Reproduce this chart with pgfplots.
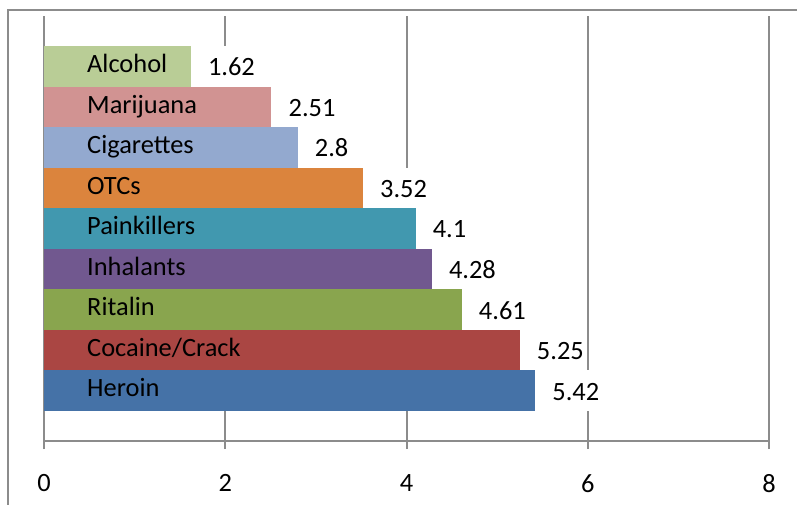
\documentclass[border=0pt]{standalone}
\usepackage{fontspec}
\setmainfont{Carlito}
\usepackage{pgfplots}
\pgfplotsset{compat=1.18}
\usepackage{pgfplotstable}
\definecolor{cAlc}{HTML}{B9CD96}
\definecolor{cMar}{HTML}{D19392}
\definecolor{cCig}{HTML}{93A9CF}
\definecolor{cOTC}{HTML}{DB843D}
\definecolor{cPai}{HTML}{4198AF}
\definecolor{cInh}{HTML}{71588F}
\definecolor{cRit}{HTML}{89A54E}
\definecolor{cCoc}{HTML}{AA4643}
\definecolor{cHer}{HTML}{4572A7}
\definecolor{gridc}{HTML}{8C8C8C}
\newcommand{\bigf}{\fontsize{26.5}{30}\selectfont}
\pgfplotstableread{
y val name
8 1.62 Alcohol
7 2.51 Marijuana
6 2.8 Cigarettes
5 3.52 OTCs
4 4.1 Painkillers
3 4.28 Inhalants
2 4.61 Ritalin
1 5.25 Cocaine/Crack
0 5.42 Heroin
}\data
\pgfplotsset{
  barsty/.style={xbar, bar width=1, bar shift=0pt, draw=none, fill=#1,
    point meta=x, nodes near coords,
    every node near coord/.style={anchor=base west, font=\bigf, fill=white,
      inner xsep=3bp, inner ysep=0pt, text height=29.8bp, text depth=10.8bp,
      xshift=14bp, yshift=-9.5bp}},
}
\begin{document}
\begin{tikzpicture}
\path[use as bounding box] (-44bp,-64bp) rectangle (753bp,441bp);
\draw[gridc, line width=2.5bp] (-36bp,-80bp) -- (-36bp,431bp) -- (770bp,431bp);
\begin{axis}[
  at={(0,0)}, anchor=south west, scale only axis,
  width=725bp, height=425bp,
  xmin=0, xmax=8, ymin=-1.24, ymax=9.24,
  axis x line*=bottom, axis y line*=left,
  axis line style={gridc, line width=2bp},
  xtick={0,2,4,6,8}, ytick=\empty,
  xmajorgrids, major grid style={gridc, line width=2bp},
  tick style={gridc, line width=2bp}, major tick length=8bp, tick align=outside,
  /pgf/number format/assume math mode=true,
  xticklabel style={font=\bigf, yshift=-22bp},
  clip=false,
]
\addplot[barsty=cAlc] coordinates {(1.62,8)};
\addplot[barsty=cMar] coordinates {(2.51,7)};
\addplot[barsty=cCig] coordinates {(2.8,6)};
\addplot[barsty=cOTC] coordinates {(3.52,5)};
\addplot[barsty=cPai] coordinates {(4.1,4)};
\addplot[barsty=cInh] coordinates {(4.28,3)};
\addplot[barsty=cRit] coordinates {(4.61,2)};
\addplot[barsty=cCoc] coordinates {(5.25,1)};
\addplot[barsty=cHer] coordinates {(5.42,0)};
\addplot[draw=none, point meta=explicit symbolic, nodes near coords,
  every node near coord/.style={anchor=base west, font=\bigf, inner sep=0pt,
    xshift=43bp, yshift=-6.2bp}]
  table[x expr=0, y=y, meta=name]{\data};
\end{axis}
\end{tikzpicture}
\end{document}
